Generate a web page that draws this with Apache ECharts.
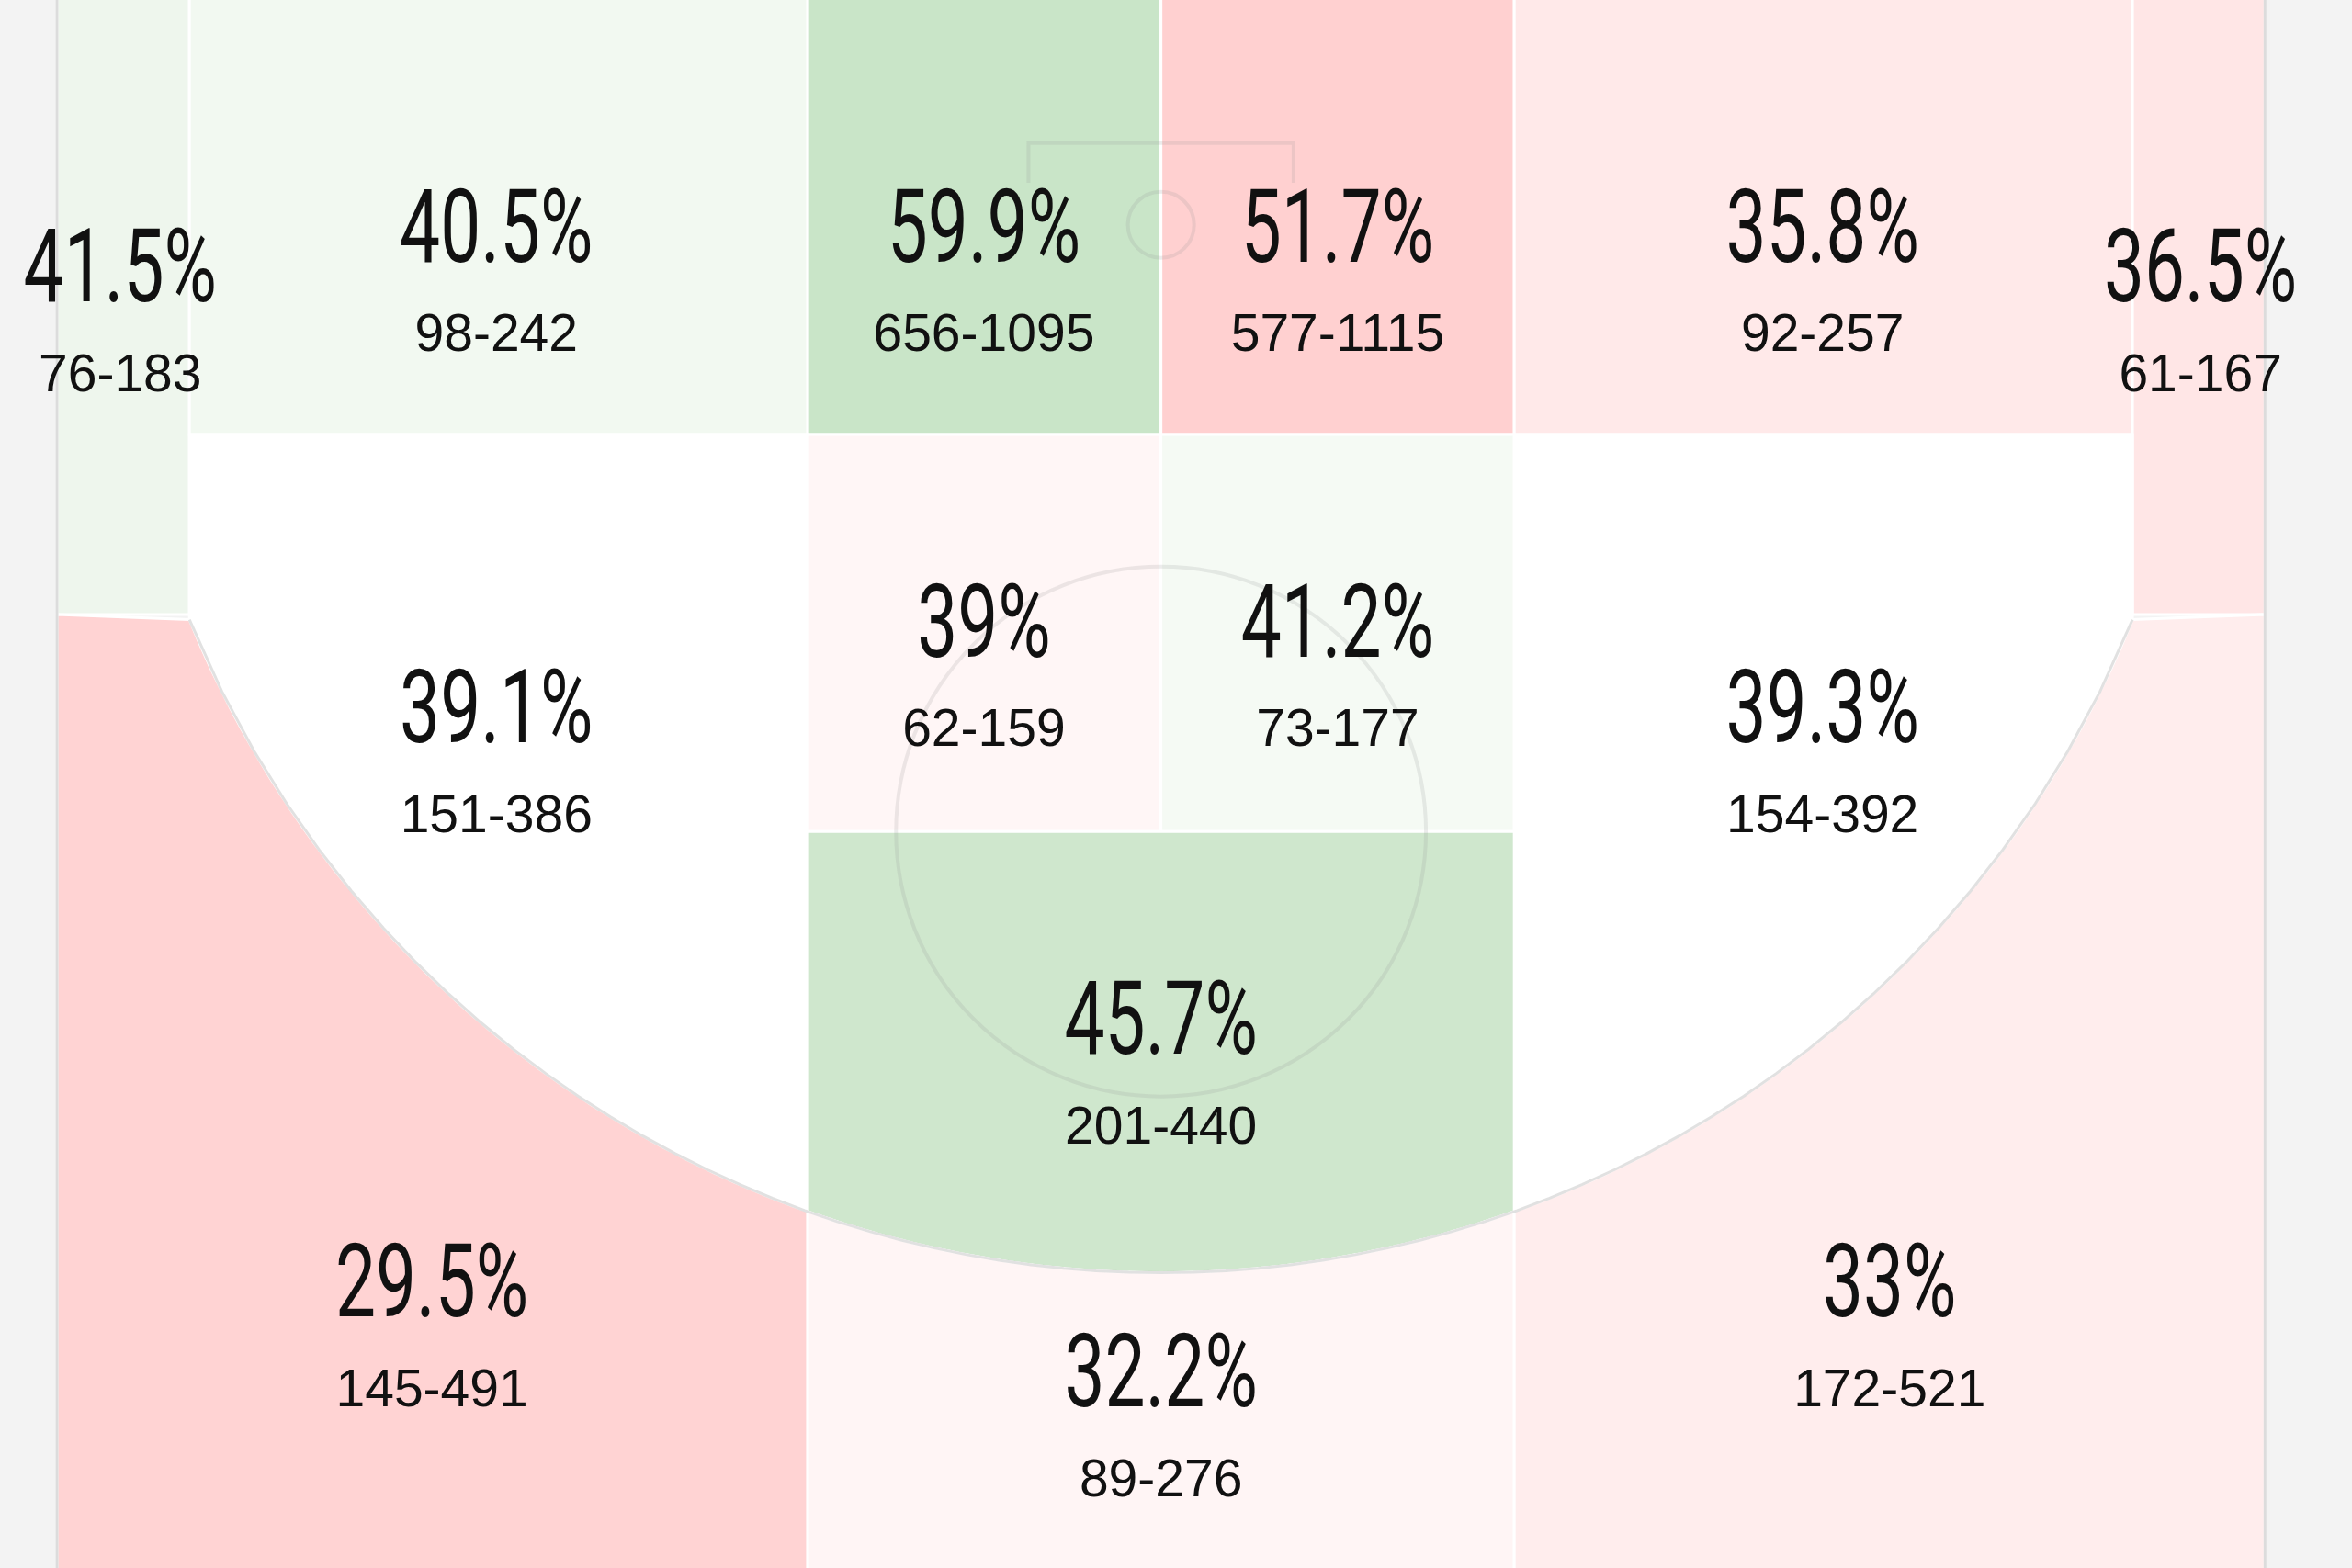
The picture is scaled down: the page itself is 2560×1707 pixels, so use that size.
<!DOCTYPE html>
<html><head><meta charset="utf-8">
<script src="https://cdn.jsdelivr.net/npm/echarts@6/dist/echarts.min.js"></script>
<style>html,body{margin:0;padding:0;background:#f3f3f3}#c{width:2560px;height:1707px}</style>
</head><body><div id="c"></div>
<script>
// Zone data
const zones = ['LC3','LMidTop','PaintL','PaintR','RMidTop','RC3','LMid','FTL','FTR','RMid','TopKey','L3','C3','R3'];
const pct = ['41.5%','40.5%','59.9%','51.7%','35.8%','36.5%','39.1%','39%','41.2%','39.3%','45.7%','29.5%','32.2%','33%'];
const made = [76,98,656,577,92,61,151,62,73,154,201,145,89,172];
const att = [183,242,1095,1115,257,167,386,159,177,392,440,491,276,521];
const zoneColors = ['#eef6ed','#f2f9f1','#c9e5c8','#ffd0d0','#ffe9e9','#ffe6e6','#ffffff','#fff6f6','#f5faf4','#ffffff','#cfe7cd','#ffd3d3','#fff5f5','#ffeded'];

// Court geometry (feet)
const CX = 25, BY = 5.25, R = 23.75, YMAX = 36;
const arcY = x => BY + Math.sqrt(R*R - (x-CX)*(x-CX));
function arc(x0, x1){ const p=[]; const n=60; for(let i=0;i<=n;i++){const x=x0+(x1-x0)*i/n;p.push([x,arcY(x)]);} return p; }
const shapes = {
  LC3:[[0,0],[3,0],[3,14.08],[0,14.08]],
  LMidTop:[[3,0],[17,0],[17,10],[3,10]],
  PaintL:[[17,0],[25,0],[25,10],[17,10]],
  PaintR:[[25,0],[33,0],[33,10],[25,10]],
  RMidTop:[[33,0],[47,0],[47,10],[33,10]],
  RC3:[[47,0],[50,0],[50,14.08],[47,14.08]],
  LMid:[[3,10],[17,10]].concat(arc(17,3)),
  FTL:[[17,10],[25,10],[25,19],[17,19]],
  FTR:[[25,10],[33,10],[33,19],[25,19]],
  RMid:[[33,10],[47,10]].concat(arc(47,33)),
  TopKey:[[17,19],[33,19]].concat(arc(33,17)),
  L3:[[0,14.08]].concat(arc(3,17)).concat([[17,YMAX],[0,YMAX]]),
  C3:arc(17,33).concat([[33,YMAX],[17,YMAX]]),
  R3:arc(33,47).concat([[50,14.08],[50,YMAX],[33,YMAX]])
};
const labelPos = {LC3:[1.43,6.4],LMidTop:[9.95,5.5],PaintL:[20.99,5.5],PaintR:[29.0,5.5],RMidTop:[39.98,5.5],RC3:[48.54,6.4],
  LMid:[9.95,16.4],FTL:[20.99,14.45],FTR:[29.0,14.45],RMid:[39.98,16.4],TopKey:[25,23.45],L3:[8.49,29.4],C3:[25,31.45],R3:[41.5,29.4]};

const chart = echarts.init(document.getElementById('c'));
chart.setOption({
  backgroundColor:'#f3f3f3',
  animation:false,
  grid:{left:0,right:0,top:0,bottom:0},
  xAxis:{type:'value',min:-1.29,max:51.97,show:false},
  yAxis:{type:'value',min:0.156,max:35.69,inverse:true,show:false},
  series:[
  {
    type:'custom', coordinateSystem:'cartesian2d', z:1,
    data: zones.map((z,i)=>[i]),
    renderItem:(params, api)=>{
      const i = api.value(0), k = zones[i];
      const pts = shapes[k].map(p=>api.coord(p));
      return {type:'polygon',shape:{points:pts},style:{fill:zoneColors[i],stroke:'#ffffff',lineWidth:3}};
    }
  },
  {
    type:'custom', coordinateSystem:'cartesian2d', z:2, silent:true,
    data:[[0]],
    renderItem:(params, api)=>{
      const s = api.size([1,1]); const ft = s[0];
      const c = p=>api.coord(p);
      const col='rgba(150,150,150,0.18)';
      const arcPts = arc(3,47).map(c);
      const fc = c([CX,19]), rim = c([CX,BY]);
      return {type:'group',children:[
        {type:'polyline',shape:{points:arcPts},style:{stroke:'rgba(170,170,170,0.35)',lineWidth:3,fill:null}},
        {type:'circle',shape:{cx:fc[0],cy:fc[1],r:6*ft},style:{stroke:col,lineWidth:4,fill:null}},
        {type:'circle',shape:{cx:rim[0],cy:rim[1],r:0.75*ft},style:{stroke:col,lineWidth:4,fill:null}},
        {type:'polyline',shape:{points:[c([22,4.3]),c([22,3.4]),c([28,3.4]),c([28,4.3])]},style:{stroke:col,lineWidth:4,fill:null}},
        {type:'polyline',shape:{points:[c([0,0]),c([0,YMAX])]},style:{stroke:'#dcdcdc',lineWidth:3}},
        {type:'polyline',shape:{points:[c([50,0]),c([50,YMAX])]},style:{stroke:'#dcdcdc',lineWidth:3}}
      ]};
    }
  },
  {
    type:'custom', coordinateSystem:'cartesian2d', z:3, silent:true,
    data: zones.map((z,i)=>[i]),
    renderItem:(params, api)=>{
      const i = api.value(0), k = zones[i];
      const lp = api.coord(labelPos[k]);
      return {type:'group',children:[
        {type:'text',x:lp[0],y:lp[1],scaleX:0.7,style:{x:0,y:0,text:pct[i],font:'112px Roboto',fill:'#111',align:'center',verticalAlign:'middle'}},
        {type:'text',x:lp[0],y:lp[1]+110,style:{x:0,y:0,text:made[i]+'-'+att[i],font:'57px "Liberation Sans"',fill:'#111',align:'center',verticalAlign:'middle'}}
      ]};
    }
  }]
});
</script></body></html>
